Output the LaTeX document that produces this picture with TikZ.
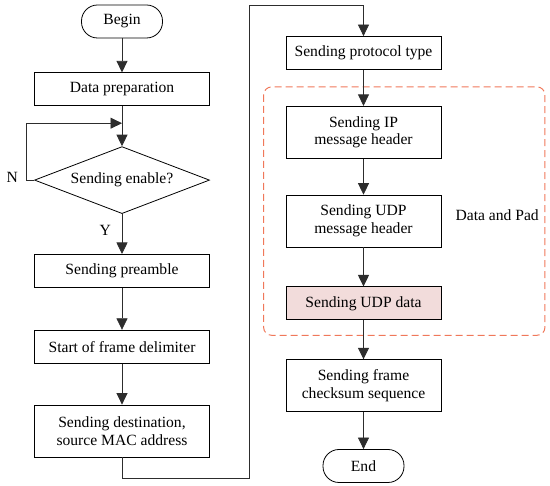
\documentclass[tikz,border=0pt]{standalone}
\usepackage{fontspec}
\setmainfont{Liberation Serif}
\usetikzlibrary{arrows.meta,positioning,shapes.geometric,calc}
\definecolor{flowline}{RGB}{45,45,45}
\definecolor{grpred}{RGB}{240,120,90}
\definecolor{udpfill}{RGB}{242,220,219}
\tikzset{
  fproc/.style={rectangle, draw, align=center, font=\fontsize{15.6}{17.7}\selectfont,
               minimum width=175pt, minimum height=33pt, inner sep=2pt, line width=0.8pt},
  fterm/.style={fproc, rounded corners=16pt, minimum width=81pt},
  fdec/.style={diamond, draw, aspect=2.6, minimum width=175pt, minimum height=67pt,
               inner sep=0pt, font=\fontsize{15.6}{17.7}\selectfont, line width=0.8pt},
  farr/.style={-{Triangle[length=11.5pt,width=11pt]}, line width=0.8pt, flowline},
  flbl/.style={font=\fontsize{15.6}{17.7}\selectfont, inner sep=0pt},
  fgrp/.style={draw=grpred, rounded corners=8pt, line width=1pt, dash pattern=on 7pt off 4pt},
}

\begin{document}
\begin{tikzpicture}
        \useasboundingbox (0,0) rectangle (550pt,-486pt);
        % left column
        \node[fterm] (begin) at (122pt,-21.5pt) {Begin};
        \node[fproc,below=34pt of begin] (prep) {Data preparation};
        \node[fdec,below=40pt of prep] (en) {Sending enable?};
        \node[fproc,below=40pt of en] (pre) {Sending preamble};
        \node[fproc,below=42pt of pre] (sfd) {Start of frame delimiter};
        \node[fproc,below=41pt of sfd,minimum height=52pt] (dest) {Sending destination,\\source MAC address};
        % right column
        \node[fproc,minimum width=155pt] (proto) at (363.5pt,-53pt) {Sending protocol type};
        \node[fproc,minimum width=155pt,minimum height=52pt,below=36pt of proto] (ip) {Sending IP\\message header};
        \node[fproc,minimum width=155pt,minimum height=52pt,below=36pt of ip] (udph) {Sending UDP\\message header};
        \node[fproc,minimum width=155pt,fill=udpfill,below=39pt of udph] (udpd) {Sending UDP data};
        \node[fproc,minimum width=155pt,minimum height=52pt,below=39pt of udpd] (chk) {Sending frame\\checksum sequence};
        \node[fterm,below=37pt of chk] (end) {End};
        \node[flbl,right=14pt of udph,yshift=6pt] (dap) {Data and Pad};
        \draw[fgrp] ($(ip.north west)+(-22pt,19pt)$) rectangle ($(dap.east |- udpd.south)+(6pt,-15pt)$);
        % connectors
        \coordinate (join) at ($(prep.south)+(0,-17pt)$);
        \coordinate (nturn) at ($(en.west)+(-8pt,0)$);
        \coordinate (turnA) at (249pt,-478pt);
        \coordinate (turnB) at (249pt,-5pt);
        \node[flbl,left=8pt of nturn,yshift=3pt] (no) {N};
        \node[flbl,anchor=east] (yes) at ($(en.south)+(-11pt,-16pt)$) {Y};
        \draw[farr](begin)--(prep);\draw[farr](prep)--(en);
        \draw[farr](en.west)--(nturn)|-(join);
        \draw[farr](en)--(pre);\draw[farr](pre)--(sfd);\draw[farr](sfd)--(dest);
        \draw[farr](dest.south)|-(turnA)--(turnB)-|(proto.north);
        \draw[farr](proto)--(ip);\draw[farr](ip)--(udph);\draw[farr](udph)--(udpd);
        \draw[farr](udpd)--(chk);\draw[farr](chk)--(end);
    \end{tikzpicture}
\end{document}
